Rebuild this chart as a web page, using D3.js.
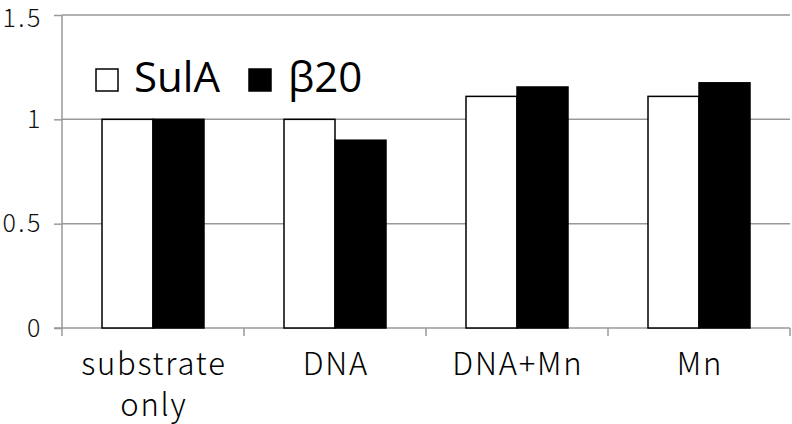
<!DOCTYPE html>
<html><head><meta charset="utf-8">
<script src="https://cdn.jsdelivr.net/npm/d3@7"></script>
<style>body{margin:0;background:#fff}svg{display:block}</style>
</head><body><svg id="c" width="792" height="424"></svg>
<script>
const categories = [["substrate","only"],["DNA"],["DNA+Mn"],["Mn"]];
const seriesNames = ["SulA","β20"];
const sulA = [1, 1, 1.11, 1.11];
const beta20 = [1, 0.9, 1.155, 1.175];
const yTicks = [0, 0.5, 1, 1.5];
const yTickLabels = ["0","0.5","1","1.5"];

const svg = d3.select("#c");
const m = {l:62, r:790, t:15, b:328};
const x = d3.scaleBand().domain(d3.range(categories.length)).range([m.l, m.r]);
const y = d3.scaleLinear().domain([0,1.5]).range([m.b, m.t]);
const grey = "#999";
const lblFont = "'Noto Sans CJK KR','Noto Sans',sans-serif";

// gridlines
svg.append("g").selectAll("line").data(yTicks.slice(1)).join("line")
  .attr("x1", m.l).attr("x2", m.r).attr("y1", d=>y(d)).attr("y2", d=>y(d))
  .attr("stroke", grey).attr("stroke-width", 1.5);

// y axis
const ya = svg.append("g").attr("transform", `translate(${m.l},0)`)
  .call(d3.axisLeft(y).tickValues(yTicks).tickFormat((d,i)=>yTickLabels[i]).tickSize(8).tickPadding(11));
ya.select(".domain").attr("stroke", grey).attr("stroke-width", 1.5).attr("d", `M0,${m.t}V${m.b}`);
ya.selectAll(".tick line").attr("stroke", grey).attr("stroke-width", 1.5);
ya.selectAll(".tick text").attr("font-family", lblFont).attr("font-size", 25).attr("fill", "#111")
  .attr("font-weight", 300).attr("letter-spacing", 2.5)
  .attr("dy", d => d === 1.5 ? "0.45em" : "0.32em");

// x axis
const xa = svg.append("g").attr("transform", `translate(0,${m.b})`);
xa.append("line").attr("x1", m.l-8).attr("x2", m.r).attr("y1",0).attr("y2",0).attr("stroke", grey).attr("stroke-width", 1.5);
xa.selectAll("line.t").data(d3.range(categories.length+1)).join("line").attr("class","t")
  .attr("x1", i=>m.l + i*x.bandwidth()).attr("x2", i=>m.l + i*x.bandwidth())
  .attr("y1", 0).attr("y2", 8).attr("stroke", grey).attr("stroke-width", 1.5);
const xl = xa.selectAll("text").data(categories).join("text")
  .attr("x", (d,i)=>x(i)+x.bandwidth()/2 + 0.9).attr("y", 47)
  .attr("text-anchor","middle").attr("font-family", lblFont).attr("font-size", 31).attr("font-weight",300)
  .attr("letter-spacing", 1.8).attr("fill","#000");
xl.selectAll("tspan").data(d=>d).join("tspan")
  .attr("x", function(){return this.parentNode.getAttribute("x");})
  .attr("dy", (d,i)=> i===0 ? 0 : 41).text(d=>d);

// bars
const bw = 51;
const inner = d3.scaleBand().domain([0,1]).range([0, bw*2]);
const series = [sulA, beta20];
const fills = ["#fff","#000"];
series.forEach((vals, s) => {
  svg.append("g").selectAll("rect").data(vals).join("rect")
    .attr("x", (d,i)=> x(i) + (x.bandwidth()-bw*2)/2 + inner(s))
    .attr("y", d=>y(d)).attr("width", inner.bandwidth()).attr("height", d=>y(0)-y(d))
    .attr("fill", fills[s]).attr("stroke", "#000").attr("stroke-width", 1.5);
});

// legend
const leg = svg.append("g");
const legX = [96, 249];
const textX = [134, 288];
seriesNames.forEach((n, s) => {
  leg.append("rect").attr("x", legX[s]).attr("y", 69).attr("width", 22).attr("height", 22)
    .attr("fill", fills[s]).attr("stroke", "#000").attr("stroke-width", 1.5);
  leg.append("text").attr("x", textX[s]).attr("y", 92).text(n)
    .attr("font-family", "'Open Sans','Noto Sans',sans-serif").attr("font-size", 42).attr("fill","#000");
});
</script></body></html>
